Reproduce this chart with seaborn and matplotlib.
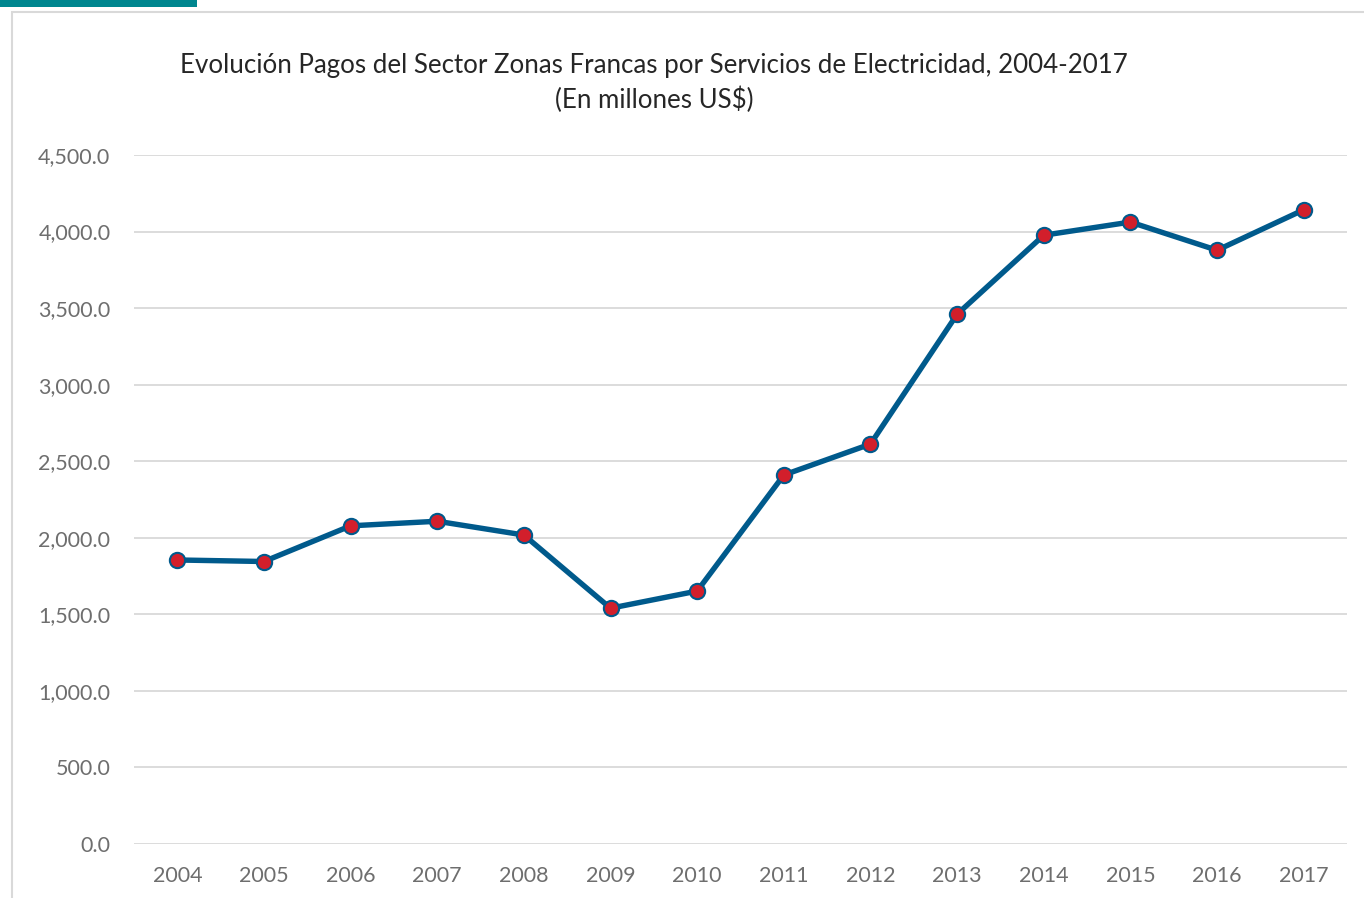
import matplotlib
matplotlib.use("Agg")
import matplotlib.pyplot as plt
import matplotlib.patches as patches
import seaborn as sns
import pandas as pd

# Data (millions US$)
years = [2004, 2005, 2006, 2007, 2008, 2009, 2010, 2011, 2012, 2013, 2014, 2015, 2016, 2017]
payments = [1855, 1845, 2078, 2108, 2018, 1540, 1652, 2410, 2612, 3460, 3976, 4062, 3878, 4142]
y_ticks = [0, 500, 1000, 1500, 2000, 2500, 3000, 3500, 4000, 4500]

title = "Evolución Pagos del Sector Zonas Francas por Servicios de Electricidad, 2004-2017\n(En millones US$)"

df = pd.DataFrame({"year": years, "payments": payments})

sns.set_theme(style="white")
plt.rcParams["font.family"] = ["Lato", "DejaVu Sans"]

fig = plt.figure(figsize=(13.64, 8.98), dpi=100)

# chart frame and teal accent bar at the top left
fig.patches.append(patches.Rectangle((12 / 1364, -0.1), 1.2, 1 - 12 / 898 + 0.1,
                                     transform=fig.transFigure, fill=False,
                                     edgecolor="#D9D9D9", linewidth=1.5))
fig.patches.append(patches.Rectangle((0, 1 - 7 / 898), 197 / 1364, 7 / 898,
                                     transform=fig.transFigure, facecolor="#00868F",
                                     edgecolor="none"))

ax = fig.add_axes([134 / 1364, 1 - 844 / 898, (1347 - 134) / 1364, (844 - 155) / 898])

sns.lineplot(data=df, x="year", y="payments", ax=ax, color="#005A8C", linewidth=3.9,
             marker="o", markersize=11, markerfacecolor="#D21F2B",
             markeredgecolor="#005A8C", markeredgewidth=1.5, zorder=3)

ax.set_xlim(years[0] - 0.5, years[-1] + 0.5)
ax.set_ylim(0, 4500)
ax.set_yticks(y_ticks)
ax.set_yticklabels([f"{v:,.1f}" for v in y_ticks])
ax.set_xticks(years)
ax.set_xticklabels([str(y) for y in years])
ax.grid(axis="y", color="#D9D9D9", linewidth=1.3)
ax.set_axisbelow(True)
for s in ax.spines.values():
    s.set_visible(False)
ax.tick_params(axis="both", length=0, labelsize=15.5, labelcolor="#6E6E6E")
ax.tick_params(axis="y", pad=17)
ax.tick_params(axis="x", pad=16)
ax.set_xlabel("")
ax.set_ylabel("")

fig.text(654 / 1364, 1 - 83 / 898, title, ha="center", va="center", fontsize=18.6,
         color="#262626", linespacing=1.4)

fig.savefig("out.png", dpi=100)
